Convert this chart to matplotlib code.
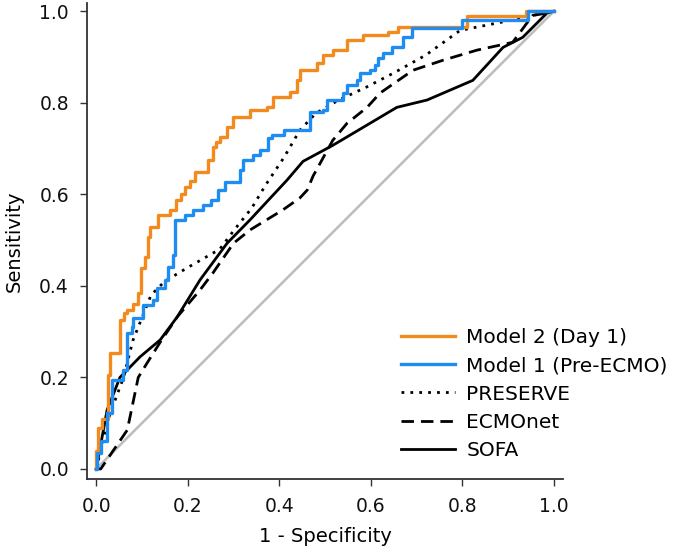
import numpy as np
import matplotlib
matplotlib.use('Agg')
import matplotlib.pyplot as plt

# ROC curves (1 - specificity, sensitivity)
m2_fpr = [0.0, 0.0, 0.005, 0.012, 0.026, 0.03, 0.052, 0.06, 0.068, 0.081, 0.092, 0.098, 0.107, 0.114, 0.118,
          0.135, 0.162, 0.175, 0.185, 0.194, 0.205, 0.216, 0.245, 0.255, 0.262, 0.271, 0.286, 0.30, 0.336, 0.373,
          0.387, 0.424, 0.439, 0.445, 0.482, 0.496, 0.517, 0.548, 0.583, 0.638, 0.66, 0.81, 0.94, 1.0]
m2_tpr = [0.0, 0.04, 0.09, 0.11, 0.205, 0.253, 0.325, 0.34, 0.347, 0.36, 0.384, 0.44, 0.463, 0.507, 0.528,
          0.555, 0.566, 0.587, 0.60, 0.616, 0.63, 0.648, 0.675, 0.703, 0.714, 0.725, 0.747, 0.769, 0.784, 0.790,
          0.812, 0.823, 0.849, 0.871, 0.886, 0.904, 0.915, 0.937, 0.948, 0.954, 0.965, 0.99, 1.0, 1.0]

m1_fpr = [0.0, 0.002, 0.01, 0.024, 0.035, 0.059, 0.068, 0.079, 0.081, 0.103, 0.124, 0.133, 0.151, 0.157, 0.168,
          0.172, 0.194, 0.212, 0.234, 0.251, 0.266, 0.282, 0.314, 0.321, 0.343, 0.358, 0.376, 0.384, 0.41, 0.467,
          0.496, 0.504, 0.539, 0.548, 0.57, 0.576, 0.598, 0.609, 0.616, 0.627, 0.646, 0.67, 0.69, 0.799, 0.943, 1.0]
m1_tpr = [0.0, 0.035, 0.06, 0.122, 0.194, 0.216, 0.297, 0.31, 0.33, 0.358, 0.369, 0.395, 0.413, 0.441, 0.467,
          0.544, 0.555, 0.566, 0.576, 0.587, 0.609, 0.627, 0.653, 0.675, 0.686, 0.697, 0.722, 0.729, 0.74, 0.779,
          0.784, 0.806, 0.821, 0.838, 0.849, 0.865, 0.871, 0.882, 0.897, 0.908, 0.921, 0.943, 0.963, 0.98, 1.0, 1.0]

pres_fpr = [0.0, 0.01, 0.03, 0.06, 0.08, 0.10, 0.12, 0.15, 0.20, 0.27, 0.30, 0.34, 0.37, 0.41, 0.445, 0.48,
            0.53, 0.59, 0.65, 0.72, 0.795, 0.93, 0.985, 1.0]
pres_tpr = [0.0, 0.04, 0.12, 0.20, 0.28, 0.33, 0.38, 0.41, 0.44, 0.48, 0.52, 0.57, 0.62, 0.68, 0.74, 0.777,
            0.806, 0.834, 0.865, 0.904, 0.958, 0.985, 0.998, 1.0]

ecmo_fpr = [0.0, 0.01, 0.068, 0.092, 0.111, 0.14, 0.177, 0.227, 0.255, 0.30, 0.336, 0.408, 0.445, 0.461,
            0.474, 0.517, 0.548, 0.592, 0.62, 0.692, 0.758, 0.832, 0.91, 0.941, 0.954, 0.985, 1.0]
ecmo_tpr = [0.0, 0.0, 0.085, 0.20, 0.231, 0.277, 0.332, 0.391, 0.428, 0.493, 0.522, 0.566, 0.592, 0.609,
            0.64, 0.718, 0.755, 0.79, 0.821, 0.871, 0.893, 0.915, 0.932, 0.974, 0.991, 0.996, 1.0]

sofa_fpr = [0.0, 0.024, 0.052, 0.096, 0.14, 0.177, 0.227, 0.286, 0.336, 0.417, 0.452, 0.517, 0.598, 0.657,
            0.723, 0.823, 0.889, 0.932, 0.985, 1.0]
sofa_tpr = [0.0, 0.129, 0.20, 0.245, 0.282, 0.332, 0.413, 0.493, 0.544, 0.631, 0.672, 0.707, 0.755, 0.79,
            0.806, 0.849, 0.921, 0.943, 0.996, 1.0]

ticks = [0.0, 0.2, 0.4, 0.6, 0.8, 1.0]

fig = plt.figure(figsize=(6.85, 5.53), dpi=100)
ax = fig.add_axes([87 / 685, 74 / 553, 476 / 685, 476 / 553])

ax.plot([0, 1], [0, 1], color='#bebebe', lw=1.9, zorder=1)
ax.plot(sofa_fpr, sofa_tpr, color='black', lw=2.0, label='SOFA', zorder=2)
ax.plot(ecmo_fpr, ecmo_tpr, color='black', lw=2.0, ls=(0, (4.5, 2.5)), label='ECMOnet', zorder=2)
ax.plot(pres_fpr, pres_tpr, color='black', lw=2.0, ls=(0, (1, 2.2)), label='PRESERVE', zorder=3)
ax.plot(m2_fpr, m2_tpr, color='#f28a1e', lw=2.4, drawstyle='steps-post', label='Model 2 (Day 1)', zorder=4)
ax.plot(m1_fpr, m1_tpr, color='#1e8cf0', lw=2.4, drawstyle='steps-post', label='Model 1 (Pre-ECMO)', zorder=5)

ax.set_xlim(-0.02, 1.02)
ax.set_ylim(-0.022, 1.018)
ax.set_xticks(ticks)
ax.set_yticks(ticks)
ax.set_xticklabels(['%.1f' % t for t in ticks])
ax.set_yticklabels(['%.1f' % t for t in ticks])
ax.tick_params(direction='out', length=5, width=1, color='#333333', labelsize=13.5, labelcolor='#111111')
ax.tick_params(axis='x', pad=8)
ax.tick_params(axis='y', pad=8)
for s in ['top', 'right']:
    ax.spines[s].set_visible(False)
for s in ['left', 'bottom']:
    ax.spines[s].set_linewidth(1.3)
    ax.spines[s].set_color('#333333')

ax.set_xlabel('1 - Specificity', fontsize=14, labelpad=8)
ax.set_ylabel('Sensitivity', fontsize=14, labelpad=11)

handles, labels = ax.get_legend_handles_labels()
order = [3, 4, 2, 1, 0]
ax.legend([handles[i] for i in order], [labels[i] for i in order], frameon=False, fontsize=14.5,
          loc='center left', bbox_to_anchor=(401 / 685, 1 - 394 / 553), bbox_transform=fig.transFigure,
          borderpad=0, borderaxespad=0, handlelength=2.7, handletextpad=0.55, labelspacing=0.45)

plt.savefig('out.png', dpi=100)
plt.close()
